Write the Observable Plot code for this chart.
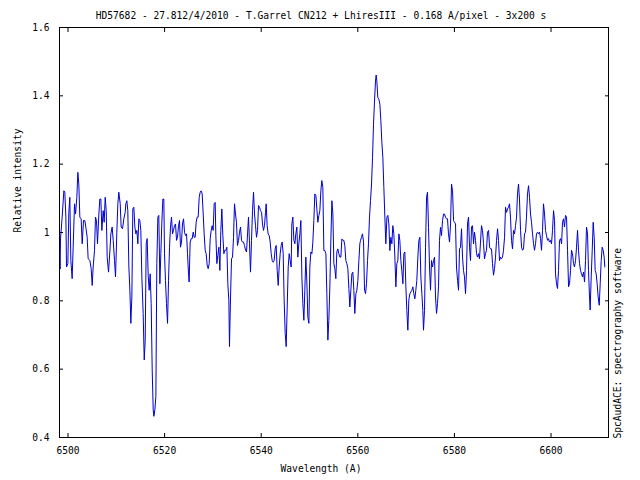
<!DOCTYPE html>
<html><head><meta charset="utf-8">
<script src="https://cdn.jsdelivr.net/npm/d3@7"></script>
<script src="https://cdn.jsdelivr.net/npm/@observablehq/plot@0.6"></script>
<style>html,body{margin:0;padding:0;background:#fff}</style>
</head><body><div id="chart"></div>
<script>
const titleText = "HD57682 - 27.812/4/2010 - T.Garrel CN212 + LhiresIII - 0.168 A/pixel - 3x200 s";
const xLabel = "Wavelength (A)";
const yLabel = "Relative intensity";
const creditText = "SpcAudACE: spectrography software";
const xTicks = [6500, 6520, 6540, 6560, 6580, 6600];
const yTicks = [0.4, 0.6, 0.8, 1.0, 1.2, 1.4, 1.6];
const xDomain = [6498.24, 6611.9];
const yDomain = [0.4, 1.6];

const wavelength = [
6498.28,6498.36,6498.45,6498.79,6499.14,6499.34,6499.56,6499.69,6499.97,6500.17,6500.38,6500.59,6500.86,
6501.07,6501.35,6501.56,6501.83,6502.04,6502.24,6502.45,6502.72,6502.94,6503.21,6503.49,6503.69,6503.97,
6504.17,6504.53,6504.80,6505.01,6505.21,6505.49,6505.69,6505.90,6506.11,6506.39,6506.59,6506.80,6507.01,
6507.28,6507.49,6507.70,6507.91,6508.11,6508.39,6508.66,6508.87,6509.14,6509.36,6509.63,6509.84,6510.11,
6510.32,6510.52,6510.81,6511.01,6511.29,6511.56,6511.84,6511.97,6512.18,6512.38,6512.60,6512.81,6513.01,
6513.22,6513.42,6513.63,6513.84,6514.05,6514.26,6514.46,6514.67,6514.87,6515.08,6515.29,6515.56,6515.78,
6515.98,6516.19,6516.39,6516.60,6516.81,6517.01,6517.22,6517.43,6517.64,6517.78,6517.98,6518.19,6518.39,
6518.60,6518.80,6519.02,
6519.22,6519.43,6519.64,6519.84,6519.98,6520.18,6520.39,6520.61,6520.81,6521.02,6521.22,6521.43,6521.64,
6521.84,6522.05,6522.26,6522.47,6522.67,6522.88,6523.09,6523.29,6523.50,6523.70,6523.92,6524.12,6524.33,
6524.54,6524.74,6524.95,6525.08,6525.29,6525.51,6525.71,6525.92,6526.12,6526.33,6526.53,6526.74,6526.95,
6527.16,6527.37,6527.57,6527.78,6527.99,6528.19,6528.40,6528.60,6528.82,6529.02,6529.23,6529.44,6529.64,
6529.85,6530.05,6530.26,6530.47,6530.61,6530.82,6531.02,6531.23,6531.44,6531.64,6531.85,6532.06,6532.27,
6532.47,6532.68,6532.89,6533.09,6533.30,6533.43,6533.65,6533.85,6534.06,6534.27,6534.47,6534.68,6534.88,
6535.09,6535.31,6535.51,6535.72,6535.92,6536.13,6536.33,6536.54,6536.76,6536.96,6537.17,6537.37,6537.58,
6537.78,6537.99,6538.20,6538.41,6538.62,6538.82,6539.03,6539.24,6539.44,6539.65,6539.85,
6540.07,6540.27,6540.48,6540.68,6540.89,6541.03,6541.23,6541.44,6541.66,6541.86,6542.07,6542.27,6542.48,
6542.68,6542.89,6543.10,6543.31,6543.52,6543.72,6543.93,6544.13,6544.34,6544.55,6544.75,6544.97,6545.17,
6545.38,6545.59,6545.79,6546.00,6546.20,6546.34,6546.55,6546.76,6546.97,6547.17,6547.38,6547.58,6547.79,
6548.00,6548.21,6548.42,6548.62,6548.83,6549.03,6549.24,6549.45,6549.65,6549.87,6550.07,6550.28,6550.49,
6550.69,6550.90,6551.10,6551.32,6551.52,6551.73,6551.94,6552.14,6552.35,6552.55,6552.76,6552.97,6553.18,
6553.39,6553.59,6553.80,6554.00,6554.21,6554.41,6554.63,6554.84,6555.04,6555.25,6555.45,6555.66,6555.86,
6556.07,6556.29,6556.49,6556.70,6556.90,6557.11,6557.31,6557.52,6557.73,6557.94,6558.15,6558.35,6558.56,
6558.77,6558.97,6559.18,6559.38,6559.60,6559.80,6560.01,6560.22,6560.42,
6560.56,6560.76,6560.97,6561.19,6561.39,6561.60,6561.80,6562.01,6562.21,6562.42,6562.63,6562.84,6563.05,
6563.25,6563.46,6563.66,6563.80,6563.94,6564.14,6564.36,6564.57,6564.77,6564.98,6565.18,6565.39,6565.60,
6565.80,6566.02,6566.22,6566.43,6566.63,6566.84,6567.05,6567.25,6567.46,6567.67,6567.88,6568.08,6568.29,
6568.50,6568.70,6568.91,6569.11,6569.33,6569.53,6569.74,6569.95,6570.15,6570.36,6570.56,6570.78,6570.98,
6571.19,6571.40,6571.60,6571.81,6572.01,6572.22,6572.43,6572.64,6572.85,6573.05,6573.26,6573.46,6573.60,
6573.81,6574.02,6574.23,6574.43,6574.64,6574.85,6575.05,6575.26,6575.46,6575.68,6575.88,6576.09,6576.30,
6576.50,6576.71,6576.91,6577.12,6577.33,6577.54,6577.75,6577.95,6578.16,6578.36,6578.57,6578.77,6578.99,
6579.20,6579.40,6579.61,6579.82,6580.02,6580.23,6580.43,6580.65,6580.85,6581.06,6581.26,
6581.47,6581.68,6581.88,6582.09,6582.30,6582.51,6582.71,6582.92,6583.13,6583.33,6583.54,6583.74,6583.96,
6584.16,6584.37,6584.58,6584.78,6584.99,6585.19,6585.40,6585.61,6585.82,6586.03,6586.23,6586.44,6586.64,
6586.85,6587.07,6587.27,6587.48,6587.68,6587.89,6588.09,6588.30,6588.51,6588.72,6588.93,6589.13,6589.34,
6589.54,6589.75,6589.96,6590.16,6590.38,6590.58,6590.79,6591.00,6591.20,6591.41,6591.61,6591.82,6592.03,
6592.24,6592.45,6592.65,6592.86,6593.06,6593.27,6593.47,6593.69,6593.90,6594.10,6594.31,6594.51,6594.72,
6594.92,6595.13,6595.35,6595.55,6595.76,6595.96,6596.17,6596.38,6596.58,6596.79,6597.00,6597.21,6597.41,
6597.62,6597.83,6598.03,6598.24,6598.44,6598.66,6598.86,6599.07,6599.28,6599.48,6599.69,6599.89,6600.10,
6600.31,6600.52,6600.73,6600.93,6601.14,6601.34,6601.55,6601.76,6601.97,6602.18,6602.38,6602.59,6602.79,
6603.00,6603.21,6603.42,6603.63,6603.83,6604.04,6604.24,6604.45,6604.66,6604.86,6605.08,6605.28,6605.49,
6605.69,6605.90,6606.11,6606.31,6606.52,6606.73,6606.94,6607.14,6607.35,6607.56,6607.76,6607.97,6608.10,
6608.32,6608.53,6608.73,6608.94,6609.14,6609.35,6609.55,6609.76,6609.98,6610.18,6610.39,6610.59,6610.80,
6611.00,6611.14
];

const intensity = [
0.930,0.893,0.981,1.045,1.122,1.118,1.045,0.899,0.909,1.059,1.103,0.918,0.865,
0.957,1.084,1.054,1.103,1.176,1.142,1.045,1.040,0.967,1.035,1.035,1.016,0.986,
0.923,0.918,0.894,0.845,0.899,0.948,1.045,1.035,0.967,1.054,1.098,1.098,1.006,
1.064,1.030,1.103,1.064,0.928,0.884,0.943,0.996,1.016,0.977,0.918,0.870,1.001,
1.084,1.118,1.084,1.016,1.011,1.040,1.059,1.084,1.093,1.064,0.899,0.831,0.734,
0.811,1.069,1.074,1.016,0.996,1.006,0.967,1.040,1.035,1.006,0.870,0.763,0.627,
0.685,0.967,0.982,0.875,0.831,0.879,0.792,0.598,0.481,0.462,0.481,0.520,0.909,
1.045,1.050,0.850,
0.938,1.030,1.098,1.098,0.938,0.860,0.792,0.734,0.860,0.957,1.016,1.045,0.996,
1.006,1.020,1.025,0.977,0.986,1.020,1.035,0.957,0.972,1.025,1.040,1.001,0.991,
0.996,0.938,0.879,0.855,0.972,0.982,0.982,1.001,0.986,0.986,1.030,1.045,1.045,
1.103,1.118,1.122,1.113,1.054,0.996,0.948,0.938,0.904,0.894,0.909,0.982,1.006,
1.020,1.006,1.084,1.088,0.991,0.909,0.933,0.957,0.889,1.006,1.069,0.991,0.938,
0.948,0.948,0.957,0.850,0.802,0.666,0.811,0.923,0.928,0.986,1.084,1.054,1.030,
0.962,0.977,1.001,1.016,0.977,0.972,0.972,0.962,0.948,0.943,0.996,1.045,0.967,
0.884,0.977,1.064,1.118,1.054,1.020,0.986,1.006,1.079,1.074,1.064,
1.059,1.025,1.006,1.020,1.059,1.084,1.020,0.996,0.991,0.972,0.938,0.918,0.913,
0.918,0.952,0.962,0.889,0.845,0.899,0.938,0.962,0.972,0.938,0.802,0.704,0.666,
0.782,0.899,0.938,0.918,0.899,1.025,1.045,0.977,0.967,0.996,1.016,0.928,0.967,
0.996,1.035,0.870,0.792,0.743,0.831,0.928,0.855,0.753,0.734,0.899,0.943,0.938,
0.972,1.035,1.113,1.108,1.069,1.030,1.050,1.064,1.122,1.152,1.132,0.947,0.947,
0.938,0.821,0.685,0.743,0.841,0.972,1.093,1.054,0.909,0.894,0.865,0.943,0.952,
0.938,0.928,0.928,0.981,0.977,0.977,0.962,0.918,0.909,0.894,0.836,0.782,0.831,
0.879,0.884,0.831,0.763,0.821,0.831,0.860,0.918,0.967,
0.977,0.986,0.996,0.972,0.831,0.821,0.850,0.918,0.967,1.045,1.093,1.142,1.220,
1.317,1.385,1.443,1.461,1.443,1.395,1.390,1.375,1.327,1.263,1.220,1.132,1.045,
0.967,1.045,1.050,1.025,0.947,0.986,0.967,1.020,0.996,0.928,0.841,0.909,0.918,
0.996,0.977,0.918,0.889,0.850,0.938,0.943,0.841,0.772,0.714,0.802,0.821,0.826,
0.831,0.841,0.821,0.806,0.831,0.860,0.928,0.977,0.986,0.870,0.821,0.772,0.714,
0.772,0.957,1.103,1.118,1.015,0.899,0.831,0.918,0.899,0.918,0.928,0.811,0.763,
0.792,0.841,0.977,1.015,0.991,1.035,1.054,1.054,1.045,1.040,1.040,0.996,0.972,
1.025,1.142,1.122,1.035,1.030,1.025,0.899,0.860,0.831,0.952,0.957,
1.011,0.928,0.889,0.870,0.821,0.889,1.025,1.045,0.957,0.918,1.016,1.020,0.967,
1.001,0.977,0.938,0.928,0.938,0.923,0.972,1.020,1.006,0.967,0.923,0.938,0.948,
1.001,1.006,0.957,0.952,0.952,0.909,0.875,0.894,0.928,0.977,1.011,0.977,0.918,
0.928,0.923,0.928,0.948,0.986,1.074,1.059,1.069,1.074,1.084,1.045,0.977,0.952,
1.006,0.996,1.020,1.045,1.113,1.142,1.098,1.006,0.957,0.948,0.952,0.996,1.001,
1.045,1.113,1.137,1.103,1.054,1.030,0.996,0.967,0.948,0.967,0.996,1.001,0.996,
1.001,0.982,0.948,1.006,1.084,1.054,1.006,0.991,0.977,0.982,0.972,0.977,0.967,
1.006,1.064,1.035,0.879,0.850,0.836,0.889,0.977,0.982,0.967,1.030,1.040,1.016,
1.050,1.045,0.948,0.841,0.850,0.889,0.948,0.938,0.909,0.899,0.918,0.957,1.006,
0.948,0.909,0.889,0.879,0.870,0.884,0.855,0.918,1.016,0.996,0.889,0.811,0.773,
0.870,0.948,1.030,0.986,0.889,0.879,0.850,0.811,0.787,0.850,0.918,0.957,0.948,
0.928,0.899
];

const data = wavelength.map((w, i) => ({w, v: intensity[i]}));
const fmtY = d3.format("~g");

const chart = Plot.plot({
  width: 640,
  height: 480,
  marginLeft: 59,
  marginRight: 32,
  marginTop: 27,
  marginBottom: 43,
  style: {fontFamily: "'DejaVu Sans Mono', monospace", fontSize: "9.6px", color: "#000", background: "#fff", overflow: "visible"},
  x: {domain: xDomain, label: null},
  y: {domain: yDomain, label: null},
  marks: [
    Plot.line(data, {x: "w", y: "v", stroke: "#0000d0", strokeWidth: 1}),
    Plot.frame({stroke: "#000"}),
    Plot.axisX(xTicks, {anchor: "bottom", tickSize: -4, tickFormat: () => "", label: null}),
    Plot.axisX(xTicks, {anchor: "top", tickSize: -4, tickFormat: () => "", label: null}),
    Plot.axisX(xTicks, {anchor: "bottom", tickSize: 0, tickPadding: 10, tickFormat: d => String(d), label: null}),
    Plot.axisY(yTicks, {anchor: "left", tickSize: -4, tickFormat: () => "", label: null}),
    Plot.axisY(yTicks, {anchor: "right", tickSize: -4, tickFormat: () => "", label: null}),
    Plot.axisY(yTicks, {anchor: "left", tickSize: 0, tickPadding: 10, tickFormat: fmtY, label: null}),
    Plot.text([titleText], {frameAnchor: "top", dx: -13, dy: -15, text: d => d, fill: "#000"}),
    Plot.text([xLabel], {frameAnchor: "bottom", dx: -13, dy: 34, text: d => d, fill: "#000"}),
    Plot.text([yLabel], {frameAnchor: "left", dx: -42, rotate: -90, text: d => d, fill: "#000"}),
    Plot.text([creditText], {frameAnchor: "bottom-right", dx: 12, dy: 1, rotate: -90, textAnchor: "start", text: d => d, fill: "#000"})
  ]
});
document.getElementById("chart").appendChild(chart);
</script>
</body></html>
